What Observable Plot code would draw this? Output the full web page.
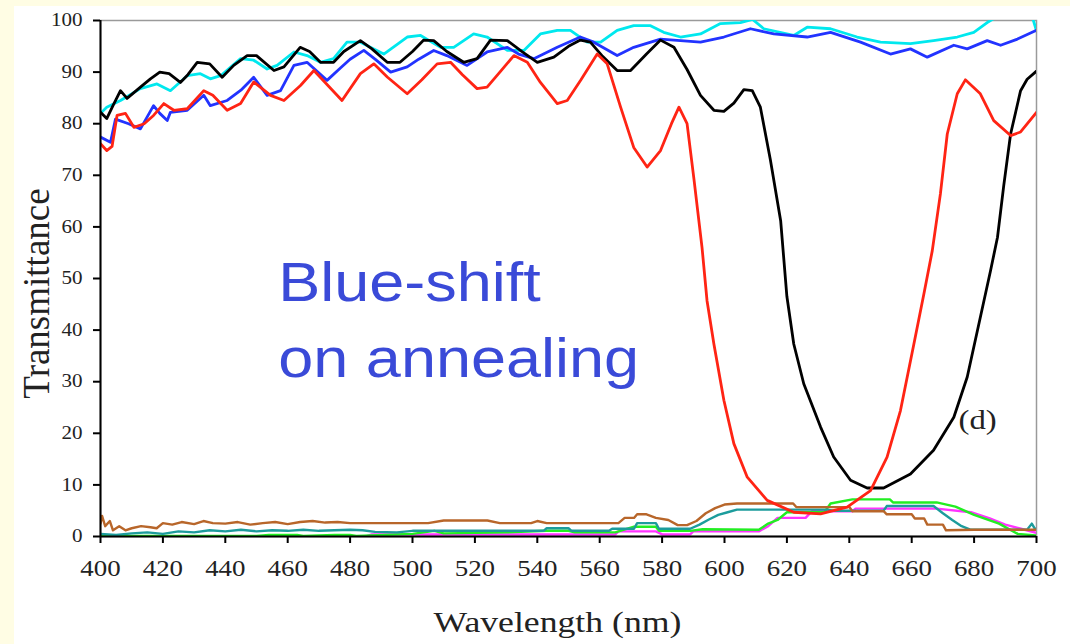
<!DOCTYPE html>
<html>
<head>
<meta charset="utf-8">
<script src="https://cdn.jsdelivr.net/npm/d3@7"></script>
<script src="https://cdn.jsdelivr.net/npm/@observablehq/plot@0.6"></script>
<style>
  html, body { margin: 0; padding: 0; background: #fffde4; width: 1070px; height: 644px; overflow: hidden; }
  #panel { position: absolute; left: 14px; top: 6px; width: 1056px; height: 638px; background: #ffffff; }
</style>
</head>
<body>
<div id="panel"></div>
<script>
// ---- tick labels ----
const xTicks = [400, 420, 440, 460, 480, 500, 520, 540, 560, 580, 600, 620, 640, 660, 680, 700];
const yTicks = [0, 10, 20, 30, 40, 50, 60, 70, 80, 90, 100];

// ---- series: [wavelength (nm), transmittance] ----
const black = [[400,82.2],[402,81.0],[404,83.5],[406.4,86.4],[408.5,84.9],[412.8,87.1],[416,88.7],[419,90.0],[422,89.7],[425.6,88.0],[428,89.5],[431,91.9],[435,91.6],[439,89.0],[442.7,91.3],[447,93.2],[450,93.2],[455.6,90.3],[458.8,91.0],[464,94.8],[467,94.0],[470.5,91.9],[474.7,91.9],[478,94.0],[483.3,96.1],[487,94.5],[491.9,91.9],[496,91.9],[500,94.0],[503.6,96.2],[506.8,96.1],[511,94.0],[516.4,91.9],[520.7,92.6],[525,96.2],[530.4,96.1],[535,94.0],[540,91.9],[545.3,92.9],[550,95.0],[553.8,96.2],[557,95.8],[561,93.0],[565.6,90.3],[569.9,90.3],[575,93.5],[579.5,96.2],[583.8,94.8],[588,90.5],[592.3,85.5],[596.6,82.6],[599.8,82.4],[603,84.0],[606.2,86.6],[608.9,86.4],[611.5,83.2],[614.7,73.0],[618,61.2],[620,46.5],[622.2,37.3],[625.4,29.6],[630.8,21.2],[635,15.4],[640.4,10.9],[645.7,9.4],[651,9.4],[659.6,12.1],[667,16.7],[673.5,23.1],[677.8,30.9],[682,42.5],[685.3,51.6],[687.5,58],[689.5,68],[691.7,78],[694.9,86.4],[697,88.6],[700,90.2]];

const red = [[400,76.1],[402,74.8],[403.7,75.6],[405.3,81.6],[408,82.0],[410.7,79.3],[414,80.0],[417,81.6],[420.3,83.9],[423.5,82.6],[427.8,82.9],[433.1,86.4],[436,85.5],[440.6,82.6],[444.9,83.9],[449.1,88.1],[454.5,85.5],[458.8,84.5],[464.1,87.4],[468.4,90.3],[472.6,87.6],[477.4,84.5],[483.3,89.7],[487.6,91.6],[492,89.0],[498.3,85.8],[503,88.5],[507.9,91.6],[512.2,91.9],[516,89.5],[520.7,86.8],[523.9,87.1],[528,90.0],[532.5,93.2],[536.8,91.9],[541,88.0],[546.4,83.9],[549.6,84.5],[554,88.5],[559.2,93.5],[562.4,91.6],[566.7,83.2],[570.9,75.4],[575.2,71.6],[579.5,74.8],[583,80.0],[585.4,83.2],[588,80.0],[590.2,69.3],[592.8,56.0],[594.4,45.7],[596.6,37.3],[599.8,26.4],[603,18.0],[607.3,11.5],[613.7,7.0],[622.2,4.7],[630.8,4.4],[639.3,5.7],[646.8,8.9],[652.1,15.4],[656.4,24.4],[660.7,37.3],[663.9,47.0],[666.6,55.4],[669.2,66.4],[671.4,78.0],[674.6,85.8],[677.2,88.5],[682,85.8],[686.3,80.6],[691.7,77.7],[694.9,78.4],[700,82.2]];

const blue = [[400,77.4],[403.2,76.4],[404.8,80.9],[409,80.0],[412.8,79.0],[417,83.5],[419,82.0],[421.4,80.6],[422.4,82.2],[427.8,82.6],[433.1,85.5],[435.2,83.5],[440.6,84.5],[445,86.5],[449.1,89.0],[453.4,85.5],[457.7,86.4],[462,91.3],[466.2,91.9],[472.6,88.4],[476.9,90.8],[480,92.5],[484.4,94.2],[488,92.5],[493,90.0],[498.3,91.0],[502,92.5],[506.8,94.2],[511,93.2],[517.5,91.3],[523.9,93.9],[530.4,94.8],[534,93.5],[538.9,92.6],[546.4,94.8],[553.8,96.8],[558.1,95.8],[565.6,93.2],[570.9,94.8],[579.5,96.4],[585.9,96.1],[592.3,95.8],[599.8,96.8],[608.3,98.4],[615.8,97.4],[626.5,96.8],[634,97.7],[643.6,95.8],[653.2,93.5],[659.6,94.5],[665,92.9],[673.5,95.2],[677.8,94.5],[684.2,96.1],[688.5,95.2],[693.9,96.4],[700,98.1]];

const cyan = [[400,82.0],[402,83.2],[406.4,84.5],[412.8,86.8],[418.1,87.7],[422.4,86.4],[427.8,89.3],[432,89.7],[435.2,88.7],[438.5,89.3],[444.9,92.6],[449.1,92.3],[453.4,90.6],[456.6,91.3],[462,93.9],[466.2,93.2],[470.5,91.9],[474.7,92.6],[479,95.8],[483.3,95.8],[490.8,93.5],[498.3,96.8],[502.6,97.1],[509,94.8],[513.2,94.8],[519.6,97.4],[523.9,96.8],[530.4,94.2],[535.7,94.2],[541,97.4],[546.4,98.1],[550.6,98.1],[556,95.8],[560.3,95.8],[565.6,98.1],[570.9,99.0],[576.3,99.0],[580.5,97.7],[585.9,96.8],[592.3,97.4],[598.7,99.4],[605.1,99.6],[609,100.2],[612.6,98.4],[622.2,97.1],[626.5,98.7],[634,98.4],[642.5,96.8],[650,95.8],[659.6,95.5],[667,96.1],[674.6,96.8],[679.9,97.7],[684.2,99.6],[688,101],[694,101.5],[698.5,101],[700,98]];

const brown = [[400,2.5],[400.5,4.0],[401.5,2.0],[403,3.0],[404,1.2],[406,2.0],[408,1.2],[410,1.6],[413,2.0],[416,1.8],[418,1.6],[420,2.6],[423,2.3],[426,2.8],[430,2.4],[433,3.0],[436,2.6],[440,2.5],[444,2.8],[448,2.3],[452,2.6],[456,2.8],[460,2.4],[464,2.8],[468,3.0],[472,2.7],[476,2.8],[480,2.6],[505,2.6],[510,3.1],[524,3.1],[528,2.6],[538,2.6],[540,3.0],[543,2.6],[566,2.6],[568,3.6],[571,3.6],[572,4.3],[575,4.3],[578,3.6],[582,3.2],[585,2.2],[588,2.2],[591,3.0],[594,4.5],[597,5.5],[600,6.2],[604,6.4],[622,6.4],[623,5.7],[640,5.7],[641,4.9],[651,4.9],[652,4.3],[660,4.3],[661,3.5],[664,3.5],[665,2.3],[670,2.3],[671,1.2],[680,1.3],[690,1.3],[700,1.3]];

const teal = [[400,0.5],[405,0.3],[410,0.6],[415,0.8],[420,0.5],[425,1.0],[430,0.8],[435,1.2],[440,1.0],[445,1.3],[450,1.0],[455,1.2],[460,1.1],[465,1.3],[470,1.1],[475,1.2],[480,1.3],[484,1.2],[488,0.9],[495,0.8],[500,1.1],[542,1.1],[543,1.6],[550,1.6],[551,1.1],[563,1.1],[564,1.5],[571,1.5],[572,2.6],[578,2.6],[579,1.5],[589,1.5],[592,2.3],[595,3.3],[598,4.2],[601,4.7],[604,5.2],[633,5.2],[635,5.0],[651,5.0],[652,5.9],[667,5.9],[670,4.5],[673,3.2],[676,2.0],[679,1.3],[697,1.3],[698.5,2.5],[699.5,1.5],[700,1.5]];

const green = [[400,0.1],[450,0.1],[454,0.3],[463,0.3],[465,0.1],[475,0.3],[480,0.3],[482,0.1],[500,0.5],[507,1.1],[510,0.6],[530,0.8],[543,1.1],[550,1.1],[552,0.8],[565,0.8],[571,1.9],[578,1.9],[579,1.1],[589,1.1],[593,1.4],[611,1.3],[614,2.5],[617,3.2],[620,4.7],[632,4.7],[634,6.4],[641,7.2],[653,7.2],[654,6.6],[668,6.6],[674,5.8],[680,4.2],[688,2.5],[694,0.5],[700,0.2]];

const magenta = [[400,0],[485,0],[487,0.4],[565,0.4],[566,1.0],[578,1.0],[580,0.4],[589,0.4],[590,1.0],[611,1.0],[614,2.0],[617,3.6],[626,3.6],[628,4.9],[641,4.9],[642,5.4],[668,5.4],[679,4.7],[685,3.5],[690,2.3],[695,1.5],[700,0.7]];

const seriesNames = ["magenta", "green", "teal", "brown", "cyan", "blue", "black", "red"];
const seriesData = [magenta, green, teal, brown, cyan, blue, black, red];
const seriesColors = ["#ff33ff", "#22ee22", "#1c9c9c", "#b8662a", "#00e8ee", "#2233ff", "#000000", "#ff2414"];

const annotationLines = ["Blue-shift", "on annealing"];
const curveLabel = "(d)";
const xTitle = "Wavelength (nm)";
const yTitle = "Transmittance";

// build table
const rows = [];
seriesData.forEach((arr, i) => arr.forEach(([w, t]) => rows.push({series: seriesNames[i], wl: w, t})));

const lineMarks = seriesNames.map((name, i) =>
  Plot.line(rows.filter(r => r.series === name), {
    x: "wl", y: "t", stroke: seriesColors[i],
    strokeWidth: i >= 4 ? 2.8 : 2.4, clip: "frame", curve: "linear"
  })
);

const serif = "'Liberation Serif', 'Times New Roman', serif";
const sans = "'Liberation Sans', Arial, sans-serif";

const chart = Plot.plot({
  width: 1056,
  height: 638,
  marginLeft: 86,
  marginTop: 14,
  marginRight: 34,
  marginBottom: 108,
  style: {fontFamily: serif, background: "#ffffff", color: "#222"},
  x: {domain: [400, 700]},
  y: {domain: [0, 100]},
  marks: [
    Plot.frame({stroke: "#9a9a9a", strokeWidth: 1.5}),
    ...lineMarks,
    Plot.axisX({ticks: xTicks, tickSize: 7, tickPadding: 16, fontSize: 23, fontFamily: serif, label: null, strokeWidth: 2, stroke: "#000", fill: "#222"}),
    Plot.axisY({ticks: yTicks, tickSize: 7, tickPadding: 11, fontSize: 18, fontFamily: serif, label: null, strokeWidth: 2, stroke: "#000", fill: "#222"}),
    Plot.ruleX([400], {stroke: "#000", strokeWidth: 2}),
    Plot.ruleY([0], {stroke: "#000", strokeWidth: 2}),
    Plot.text([xTitle], {frameAnchor: "bottom", text: d => d, textAnchor: "middle", dx: -11, dy: 86, lineAnchor: "middle", fontSize: 30.5, fontFamily: serif, fill: "#222"}),
    Plot.text([yTitle], {frameAnchor: "left", text: d => d, textAnchor: "middle", rotate: -90, dx: -63, dy: 15, lineAnchor: "middle", fontSize: 37, fontFamily: serif, fill: "#222"}),
    Plot.text([annotationLines[0]], {x: () => 457, y: () => 49, text: d => d, textAnchor: "start", lineAnchor: "middle", fontSize: 55, fontFamily: sans, fill: "#3a4ad8"}),
    Plot.text([annotationLines[1]], {x: () => 457, y: () => 34.3, text: d => d, textAnchor: "start", lineAnchor: "middle", fontSize: 55, fontFamily: sans, fill: "#3a4ad8"}),
    Plot.text([curveLabel], {x: () => 675, y: () => 22.6, text: d => d, textAnchor: "start", lineAnchor: "middle", fontSize: 28, fontFamily: serif, fill: "#222"})
  ]
});

document.getElementById("panel").appendChild(chart);

// the original picture is stretched horizontally: widen upright text glyphs about their anchor
const stretch = new Map([
  [annotationLines[0], 1.145], [annotationLines[1], 1.145],
  [xTitle, 1.17], [curveLabel, 1.17], [yTitle, 1.0]
]);
chart.querySelectorAll("text").forEach(el => {
  const s = stretch.has(el.textContent) ? stretch.get(el.textContent) : 1.17;
  if (s === 1) return;
  const tr = el.getAttribute("transform");
  if (tr) {
    el.setAttribute("transform", tr + ` scale(${s},1)`);
  } else {
    const x = +(el.getAttribute("x") || 0), y = +(el.getAttribute("y") || 0);
    el.setAttribute("transform", `translate(${x},${y}) scale(${s},1) translate(${-x},${-y})`);
  }
});
</script>
</body>
</html>
